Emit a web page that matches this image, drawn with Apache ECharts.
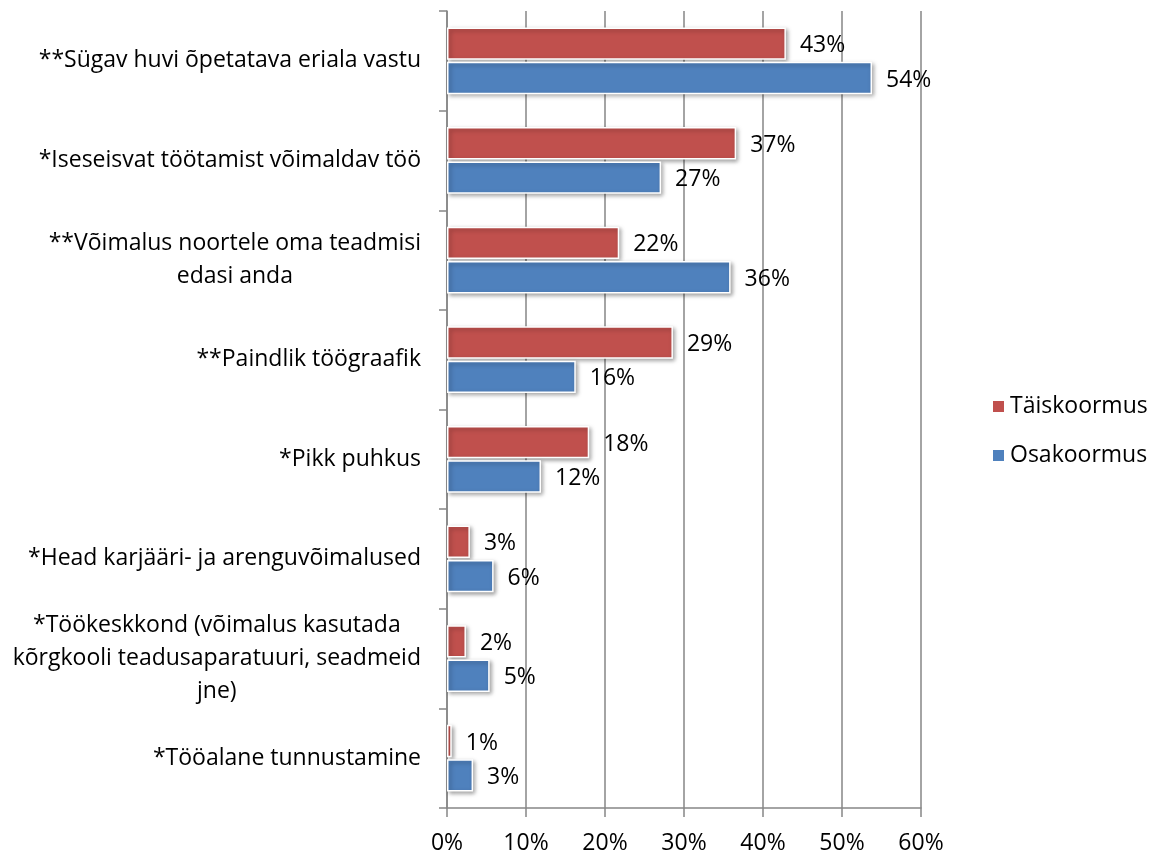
<!DOCTYPE html>
<html>
<head>
<meta charset="utf-8">
<script src="https://cdn.jsdelivr.net/npm/echarts@6/dist/echarts.min.js"></script>
<style>
  html, body { margin: 0; padding: 0; background: #fff; }
  #chart { width: 1151px; height: 855px; }
</style>
</head>
<body>
<div id="chart"></div>
<script>
var categories = [
    '**Sügav huvi õpetatava eriala vastu',
    '*Iseseisvat töötamist võimaldav töö',
    '**Võimalus noortele oma teadmisi\nedasi anda',
    '**Paindlik töögraafik',
    '*Pikk puhkus',
    '*Head karjääri- ja arenguvõimalused',
    '*Töökeskkond (võimalus kasutada\nkõrgkooli teadusaparatuuri, seadmeid\njne)',
    '*Tööalane tunnustamine'
];
var taiskoormus = [42.9, 36.6, 21.8, 28.6, 18.0, 2.9, 2.4, 0.6];
var osakoormus = [53.8, 27.1, 35.9, 16.3, 11.9, 5.9, 5.4, 3.3];
var xTicks = [0, 10, 20, 30, 40, 50, 60];

var font = 'Open Sans';
var fs = 23;
var chart = echarts.init(document.getElementById('chart'));

function barSeries(name, data, color) {
    return {
        name: name,
        type: 'bar',
        data: data,
        barGap: '6%',
        barCategoryGap: '33%',
        itemStyle: {
            color: color,
            borderColor: '#fff',
            borderWidth: 1.5,
            shadowBlur: 4,
            shadowColor: 'rgba(0,0,0,0.35)',
            shadowOffsetX: 2,
            shadowOffsetY: 2
        },
        label: {
            show: true,
            position: 'right',
            distance: 14,
            offset: [0, 2],
            color: '#000',
            fontFamily: font,
            fontSize: fs,
            formatter: function (p) { return Math.round(p.value) + '%'; }
        }
    };
}

chart.setOption({
    animation: false,
    textStyle: { fontFamily: font },
    grid: { left: 447, right: 230, top: 11, bottom: 46 },
    legend: {
        orient: 'vertical',
        left: 986,
        top: 390,
        itemWidth: 13,
        itemHeight: 13,
        itemGap: 26,
        icon: 'rect',
        textStyle: { fontFamily: font, fontSize: fs, color: '#000' },
        data: ['Täiskoormus', 'Osakoormus']
    },
    xAxis: {
        type: 'value',
        min: xTicks[0],
        max: xTicks[xTicks.length - 1],
        interval: 10,
        axisLine: { show: true, lineStyle: { color: '#868686', width: 1.5 } },
        axisTick: { show: true, length: 9, lineStyle: { color: '#868686', width: 1.5 } },
        splitLine: { show: true, lineStyle: { color: '#868686', width: 1.5 } },
        axisLabel: {
            margin: 24,
            color: '#000',
            fontFamily: font,
            fontSize: fs,
            formatter: '{value}%'
        }
    },
    yAxis: {
        type: 'category',
        inverse: true,
        data: categories,
        axisLine: { show: true, lineStyle: { color: '#868686', width: 1.5 } },
        axisTick: { show: true, length: 8, lineStyle: { color: '#868686', width: 1.5 } },
        axisLabel: {
            margin: 26,
            color: '#000',
            fontFamily: font,
            fontSize: fs,
            lineHeight: 33,
            formatter: function (v) { return '{c|' + v + '}'; },
            rich: {
                c: { align: 'center', fontFamily: font, fontSize: fs, lineHeight: 33, color: '#000' }
            }
        }
    },
    series: [
        barSeries('Täiskoormus', taiskoormus, '#C0504D'),
        barSeries('Osakoormus', osakoormus, '#4F81BD')
    ]
});
</script>
</body>
</html>
